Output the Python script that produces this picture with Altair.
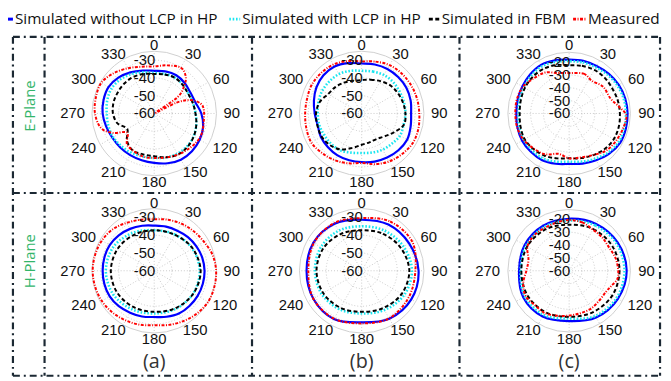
import math
import altair as alt
import pandas as pd

# ---------------- data (angle in degrees clockwise from top, value in dB) ----------------
ANG15 = list(range(0, 360, 15))
ANG30 = list(range(0, 360, 30))

# (a) E-plane
AE_BLUE = [-36, -35.5, -35.2, -35.8, -36.5, -36, -33.5, -31.5, -30.5, -30, -30, -31,
           -32.2, -32.8, -33, -33, -32.8, -32, -31, -30.5, -30.3, -31.5, -33.3, -35]
AE_CYAN = [-37.2, -37, -36.7, -37.2, -37.8, -37.5, -36.7, -35.5, -34.4, -33.9, -33.9, -34.4,
           -35, -35, -34.4, -34, -33.3, -33.3, -33.3, -32.6, -32.2, -33, -34.4, -36]
AE_BLACK = [-37.8, -37.3, -36.8, -37.3, -37.9, -37.5, -36.8, -35.5, -34.3, -33.5, -33.3, -34.5,
            -36, -36.2, -36, -38.3, -42.5, -38.6, -36.8, -36.3, -36.3, -36.2, -36.3, -37]
AE_RED_ANG = [0, 15, 30, 40, 47, 55, 60, 64, 70, 78, 86, 99, 112, 123, 135, 150, 165, 180,
              195, 210, 222, 235, 245, 255, 270, 285, 300, 315, 330, 345]
AE_RED = [-33.5, -32, -30.2, -32.5, -36.8, -44, -59, -46, -38, -33.3, -32, -31.8, -31,
          -31.2, -32.2, -33.3, -34.4, -35, -35, -36, -37, -41.3, -34.2, -28.9, -26.7, -26,
          -25.6, -27.9, -30.6, -32.8]

# (b) E-plane
BE_BLUE = [-31.9, -31.5, -31.1, -31, -31, -31.5, -32.2, -31.5, -30.5, -30.8, -31.4, -32,
           -32.6, -32.8, -32.8, -33.2, -33.5, -34.4, -33.6, -32.2, -30.6, -29.6, -29.5, -30.7]
BE_CYAN = [-36, -35.6, -35, -35, -35.4, -35.4, -35.4, -35.6, -35.1, -36, -36.5, -37.3,
           -37.8, -37.2, -36, -35.8, -35.7, -35.3, -35.3, -34.8, -34.4, -34.4, -34.4, -35.2]
BE_BLACK = [-41.2, -40.3, -39, -37.5, -36.7, -36, -35.4, -35.4, -38.9, -41.8, -43.4, -43.2,
            -42.4, -40, -36.6, -34.8, -34, -34.2, -34.3, -35.5, -38.2, -39, -40, -41]
BE_RED = [-30.7, -29.8, -28.6, -28.2, -28, -27.8, -27.6, -27, -26.8, -27.8, -28.9, -30.5,
          -32.2, -31, -29.7, -28.5, -27.3, -27.8, -28.2, -28.2, -27.6, -27.8, -28.2, -29.5]

# (c) E-plane
CE_BLUE = [-18.1, -17.6, -17.3, -16.3, -15.4, -14.8, -14.5, -14.3, -14.2, -15.8, -18, -19.6,
           -20.7, -19.5, -18, -17.8, -17.7, -18.3, -18.9, -18.5, -17.9, -17, -16.3, -17.2]
CE_CYAN = [-19.2, -18.8, -18.5, -17.5, -16.6, -16, -15.8, -15.6, -15.5, -17, -19.4, -21.2,
           -22.5, -21.2, -19.5, -19.2, -19.2, -19.8, -20.7, -20, -19.3, -18.3, -17.6, -18.4]
CE_BLACK = [-22.5, -21.6, -20.8, -20.8, -21.2, -20.8, -20.5, -20, -19.9, -20.9, -22.6, -24,
            -25.1, -23.8, -22, -20.8, -20, -20.8, -21.5, -21, -20.2, -19.8, -19.9, -21]
CE_RED_ANG = [0, 20, 35, 52, 70, 82, 92, 105, 120, 135, 150, 165, 180, 195, 210, 225, 240,
              255, 270, 285, 300, 315, 330, 345]
CE_RED = [-28.5, -27, -29, -26.3, -25.8, -21, -15.5, -16.4, -17.7, -19.2, -22.6, -24.6,
          -25.1, -27.5, -23.2, -21.2, -19, -18.1, -18.1, -17.8, -18.5, -21.2, -23.2, -27.4]

# (a) H-plane
AH_BLUE = [-34.6, -34.3, -34, -33.2, -32.6, -32, -31.7, -31.7, -31.8, -32, -32.2, -33.2,
           -34, -33.4, -32.8, -31.8, -31.1, -31, -31, -31, -31.1, -31.8, -32.8, -33.8]
AH_CYAN = [-37.2, -36.5, -35.2, -34.4, -34.6, -35.4, -36, -35, -33.4, -32.8, -33.4, -35.5]
AH_BLACK = [-37.2, -36.7, -35, -33.9, -34.5, -35.8, -36.9, -36.5, -35.8, -35.6, -36, -36.8]
AH_RED = [-31, -30.3, -29.4, -28.6, -27.6, -26, -25.2, -25, -25, -26, -27.3, -28.5,
          -29.4, -28.6, -27.8, -26.8, -26, -25.6, -25.4, -25.6, -26, -27, -28.9, -30.3]

# (b) H-plane
BH_BLUE = [-31.3, -30, -29.2, -28, -27.8, -28.9, -31, -28.7, -28.6, -29, -28.6, -29.5]
BH_CYAN = [-35, -34, -32.8, -31.7, -32.5, -34.5, -36, -35, -34, -33.7, -33.5, -34]
BH_BLACK = [-37.2, -36, -34.5, -33.2, -34, -35.8, -36.9, -36, -35, -34.6, -35, -36.2]
BH_RED = [-30.4, -28, -27.2, -29.8, -29.6, -29.1, -30.4, -28.9, -28.6, -30, -28.9, -29]

# (c) H-plane
CH_BLUE = [-19.5, -18, -16.3, -15.2, -16.2, -18, -20.8, -18.8, -18.7, -21, -20, -19.5]
CH_CYAN = [-20.8, -19.2, -17.5, -16.9, -17.5, -19.3, -22.8, -20.3, -20, -22.2, -21.3, -20.8]
CH_BLACK = [-24.1, -22.5, -21.3, -20.8, -21.3, -22.8, -24.1, -22.8, -22.3, -22.8, -22.3, -22.9]
CH_RED_ANG = [0, 15, 30, 45, 60, 75, 90, 100, 110, 120, 135, 150, 165, 180, 195, 210, 225,
              240, 255, 270, 285, 300, 315, 330, 345]
CH_RED = [-20.5, -21, -23, -23.5, -24, -22.5, -21.8, -22, -25.2, -27, -27, -26, -25.8,
          -25.1, -23.8, -22, -22.2, -20.8, -23, -26.7, -27.2, -22.5, -21.2, -21.6, -21.3]

SERIES = ["blue", "cyan", "black", "red"]
LEGEND_LABELS = ["Simulated without LCP in HP", "Simulated with LCP in HP",
                 "Simulated in FBM", "Measured"]
THETA_TICKS = ANG30
R_TICKS_AB = [-30, -40, -50, -60]
R_TICKS_C = [-20, -30, -40, -50, -60]
PANEL_LETTERS = ["(a)", "(b)", "(c)"]
PLANE_LABELS = ["E-Plane", "H-Plane"]

CURVES = [
    ("aE", "blue", ANG15, AE_BLUE), ("aE", "cyan", ANG15, AE_CYAN),
    ("aE", "black", ANG15, AE_BLACK), ("aE", "red", AE_RED_ANG, AE_RED),
    ("bE", "blue", ANG15, BE_BLUE), ("bE", "cyan", ANG15, BE_CYAN),
    ("bE", "black", ANG15, BE_BLACK), ("bE", "red", ANG15, BE_RED),
    ("cE", "blue", ANG15, CE_BLUE), ("cE", "cyan", ANG15, CE_CYAN),
    ("cE", "black", ANG15, CE_BLACK), ("cE", "red", CE_RED_ANG, CE_RED),
    ("aH", "blue", ANG15, AH_BLUE), ("aH", "cyan", ANG30, AH_CYAN),
    ("aH", "black", ANG30, AH_BLACK), ("aH", "red", ANG15, AH_RED),
    ("bH", "blue", ANG30, BH_BLUE), ("bH", "cyan", ANG30, BH_CYAN),
    ("bH", "black", ANG30, BH_BLACK), ("bH", "red", ANG30, BH_RED),
    ("cH", "blue", ANG30, CH_BLUE), ("cH", "cyan", ANG30, CH_CYAN),
    ("cH", "black", ANG30, CH_BLACK), ("cH", "red", CH_RED_ANG, CH_RED),
]

# ---------------- layout (page pixel coordinates) ----------------
W, H = 663, 372
X0, Y0 = 8, 8
COL_CX = {"a": 156, "b": 366, "c": 576}
ROW_CY = {"E": 112.5, "H": 271.7}
# (value at centre, value at outer ring, pixels per dB)
COL_SCALE = {"a": (-60, -25, 1.8), "b": (-60, -25, 1.8), "c": (-60, -12.3, 1.3)}
LABEL_R = 70
FRAME = [(13, 35, 668, 35), (13, 378, 668, 378), (13, 193, 668, 193),
         (13, 35, 13, 378), (45, 35, 45, 378), (255, 35, 255, 378),
         (465, 35, 465, 378), (668, 35, 668, 378)]
LEGEND_Y = 17
LEGEND_MARK_X = [(5, 13), (232, 243), (434, 445), (580, 593)]
LEGEND_TEXT_X = [15, 245, 447, 595]
LEGEND_FONT = 15.5

STYLE = {
    "blue": dict(color="#0000ff", strokeWidth=2.2),
    "cyan": dict(color="#19e6f0", strokeWidth=2.6, strokeDash=[1.6, 1.8]),
    "black": dict(color="#000000", strokeWidth=2.0, strokeDash=[4, 2.5]),
    "red": dict(color="#ff0000", strokeWidth=2.0, strokeDash=[3, 1.5, 1, 1.5]),
}

XS = alt.Scale(domain=[X0, X0 + W], nice=False, zero=False)
YS = alt.Scale(domain=[Y0, Y0 + H], nice=False, zero=False, reverse=True)


def panel_geo(p):
    col, row = p[0], p[1]
    rmin, rmax, k = COL_SCALE[col]
    return dict(panel=p, cx=COL_CX[col], cy=ROW_CY[row], rmin=rmin, rmax=rmax, k=k)


PANELS = [c + r for r in "EH" for c in "abc"]

rows = []
for p, s, angs, vals in CURVES:
    g = panel_geo(p)
    for i, (a, v) in enumerate(zip(angs, vals)):
        rows.append(dict(g, series=s, idx=i, ang=a, db=v))
curves_df = pd.DataFrame(rows)

ring_rows = []
for p in PANELS:
    g = panel_geo(p)
    ticks = R_TICKS_C if p[0] == "c" else R_TICKS_AB
    for t in ticks:
        if t > g["rmin"]:
            ring_rows.append(dict(g, db=t, outer=False))
    ring_rows.append(dict(g, db=g["rmax"], outer=True))
rings_df = pd.DataFrame(ring_rows)

spoke_rows = []
for p in PANELS:
    g = panel_geo(p)
    for a in THETA_TICKS:
        spoke_rows.append(dict(g, ang=a, label=str(a)))
spokes_df = pd.DataFrame(spoke_rows)

rl_rows = []
for p in PANELS:
    g = panel_geo(p)
    ticks = R_TICKS_C if p[0] == "c" else R_TICKS_AB
    for t in ticks:
        rl_rows.append(dict(g, db=t, label=str(t)))
rlab_df = pd.DataFrame(rl_rows)

frame_df = pd.DataFrame(FRAME, columns=["x", "y", "x2", "y2"])
leg_df = pd.DataFrame(dict(series=SERIES, label=LEGEND_LABELS,
                           mx=[m[0] for m in LEGEND_MARK_X], mx2=[m[1] for m in LEGEND_MARK_X],
                           tx=LEGEND_TEXT_X, y=[LEGEND_Y] * 4))
letters_df = pd.DataFrame(dict(label=PANEL_LETTERS, x=[COL_CX[c] for c in "abc"], y=[364] * 3))
planes_df = pd.DataFrame(dict(label=PLANE_LABELS, x=[30, 30], y=[105, 262]))


def X(f):
    return alt.X(f, type="quantitative", scale=XS, axis=None)


def Y(f):
    return alt.Y(f, type="quantitative", scale=YS, axis=None)


layers = []

layers.append(alt.Chart(frame_df).mark_rule(color="#1b2833", strokeWidth=2.2,
                                            strokeDash=[7, 4, 2, 4]).encode(
    x=X("x"), y=Y("y"), x2="x2", y2="y2"))

rings = alt.Chart(rings_df).transform_calculate(
    rr="(datum.db - datum.rmin) * datum.k",
    sz="4 * datum.rr * datum.rr")
layers.append(rings.transform_filter("!datum.outer").mark_point(
    shape="circle", filled=False, color="#c4c4c4", opacity=1, strokeWidth=0.9,
    strokeDash=[1, 2]).encode(x=X("cx"), y=Y("cy"), size=alt.Size("sz:Q", scale=None)))
layers.append(rings.transform_filter("datum.outer").mark_point(
    shape="circle", filled=False, color="#cfcfcf", opacity=1, strokeWidth=1).encode(
    x=X("cx"), y=Y("cy"), size=alt.Size("sz:Q", scale=None)))

spokes = alt.Chart(spokes_df).transform_calculate(
    R="(datum.rmax - datum.rmin) * datum.k",
    sx="datum.cx + datum.R * sin(datum.ang * PI / 180)",
    sy="datum.cy - datum.R * cos(datum.ang * PI / 180)",
    lx="datum.cx + (%d + length(datum.label) * 4.2) * sin(datum.ang * PI / 180)" % LABEL_R,
    ly="datum.cy - %d * cos(datum.ang * PI / 180)" % (LABEL_R - 1),
)
layers.append(spokes.mark_rule(color="#c4c4c4", strokeWidth=0.9, strokeDash=[1, 2]).encode(
    x=X("cx"), y=Y("cy"), x2="sx:Q", y2="sy:Q"))

for s in SERIES:
    layers.append(alt.Chart(curves_df).transform_filter(
        alt.datum.series == s).transform_calculate(
        r="max(0, datum.db - datum.rmin) * datum.k",
        px="datum.cx + datum.r * sin(datum.ang * PI / 180)",
        py="datum.cy - datum.r * cos(datum.ang * PI / 180)",
    ).mark_line(interpolate="cardinal-closed", **STYLE[s]).encode(
        x=X("px"), y=Y("py"), detail="panel:N", order="idx:Q"))

layers.append(spokes.mark_text(font="Liberation Sans", fontSize=15, color="#111",
                               align="center", baseline="middle").encode(
    x=X("lx"), y=Y("ly"), text="label:N"))

layers.append(alt.Chart(rlab_df).transform_calculate(
    ry="datum.cy - (datum.db - datum.rmin) * datum.k",
    rx="datum.cx + 1").mark_text(font="Liberation Sans", fontSize=15, color="#111",
                                  align="right", baseline="middle").encode(
    x=X("rx"), y=Y("ry"), text="label:N"))

for i, s in enumerate(SERIES):
    st = dict(STYLE[s])
    st["strokeWidth"] = 3
    layers.append(alt.Chart(leg_df.iloc[[i]]).mark_rule(**st).encode(
        x=X("mx"), x2="mx2:Q", y=Y("y")))
layers.append(alt.Chart(leg_df).mark_text(font="Open Sans", fontSize=LEGEND_FONT, color="#111",
                                          align="left", baseline="middle").encode(
    x=X("tx"), y=Y("y"), text="label:N"))

layers.append(alt.Chart(letters_df).mark_text(font="Open Sans", fontSize=20, color="#333",
                                              align="center", baseline="middle").encode(
    x=X("x"), y=Y("y"), text="label:N"))
layers.append(alt.Chart(planes_df).mark_text(font="Open Sans", fontSize=15, color="#33b56a",
                                             align="center", baseline="middle", angle=270).encode(
    x=X("x"), y=Y("y"), text="label:N"))

chart = alt.layer(*layers).properties(
    width=W, height=H, padding=0, autosize=alt.AutoSizeParams(type="none")
).configure_view(strokeWidth=0)

chart.save("out.html", embed_options={"renderer": "svg", "actions": False})
